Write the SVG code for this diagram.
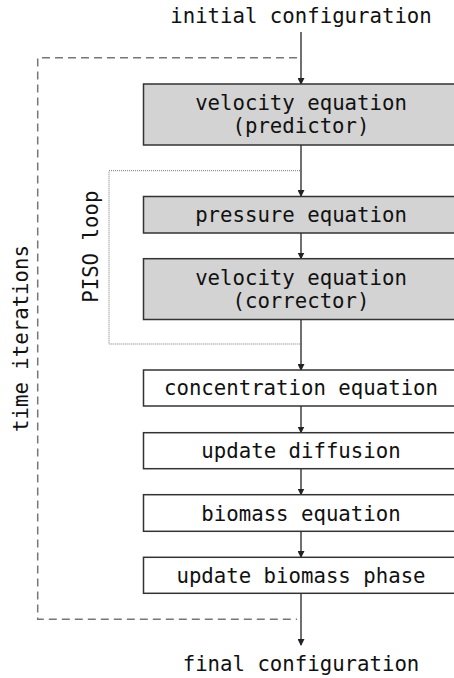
<svg xmlns="http://www.w3.org/2000/svg" width="454" height="678" viewBox="0 0 454 678">
<style>
text{font-family:"DejaVu Sans Mono","Liberation Mono",monospace;font-size:20.7px;fill:#111;text-anchor:middle}
.g{fill:#d3d3d3;stroke:#333;stroke-width:1.5}
.w{fill:#fff;stroke:#333;stroke-width:1.5}
.a{stroke:#333;stroke-width:1.4;fill:none;marker-end:url(#ah)}
.d{stroke:#777;stroke-width:1.5;fill:none;stroke-dasharray:8 5}
.p{stroke:#777;stroke-width:1;fill:none;stroke-dasharray:1 1}
</style>
<defs>
<marker id="ah" markerWidth="7" markerHeight="7" refX="6" refY="3.5" orient="auto" markerUnits="userSpaceOnUse">
<path d="M0,0 L7,3.5 L0,7 Z" fill="#222"/>
</marker>
</defs>
<rect width="454" height="678" fill="#fff"/>
<g id="connectors">
<line class="a" x1="301" y1="32" x2="301" y2="84"/>
<line class="a" x1="301" y1="145" x2="301" y2="196"/>
<line class="a" x1="301" y1="233" x2="301" y2="258.5"/>
<line class="a" x1="301" y1="319.5" x2="301" y2="370"/>
<line class="a" x1="301" y1="406" x2="301" y2="432.5"/>
<line class="a" x1="301" y1="469" x2="301" y2="494.5"/>
<line class="a" x1="301" y1="531.5" x2="301" y2="557"/>
<line class="a" x1="301" y1="593.5" x2="301" y2="645"/>
<path class="d" d="M297,57.7 H37.7 V619.3 H297"/>
<path class="p" d="M300,170.7 H109 V344 H300"/>
</g>
<g id="initial"><text x="301" y="23">initial configuration</text></g>
<g id="final"><text x="301" y="671">final configuration</text></g>
<g id="time-label"><text transform="translate(28.3,338.5) rotate(-90)">time iterations</text></g>
<g id="piso-label"><text transform="translate(98.3,246.7) rotate(-90)">PISO loop</text></g>
<g id="velocity-predictor"><rect class="g" x="143.5" y="84" width="315" height="61"/><text x="301" y="110">velocity equation</text><text x="301" y="133">(predictor)</text></g>
<g id="pressure"><rect class="g" x="143.5" y="196.5" width="315" height="36.5"/><text x="301" y="221.5">pressure equation</text></g>
<g id="velocity-corrector"><rect class="g" x="143.5" y="258.7" width="315" height="60.8"/><text x="301" y="284.7">velocity equation</text><text x="301" y="307.5">(corrector)</text></g>
<g id="concentration"><rect class="w" x="143.5" y="370" width="315" height="36"/><text x="301" y="395">concentration equation</text></g>
<g id="diffusion"><rect class="w" x="143.5" y="432.7" width="315" height="36"/><text x="301" y="458">update diffusion</text></g>
<g id="biomass"><rect class="w" x="143.5" y="494.7" width="315" height="36.6"/><text x="301" y="520.5">biomass equation</text></g>
<g id="biomass-phase"><rect class="w" x="143.5" y="557.3" width="315" height="36"/><text x="301" y="582.5">update biomass phase</text></g>
</svg>
